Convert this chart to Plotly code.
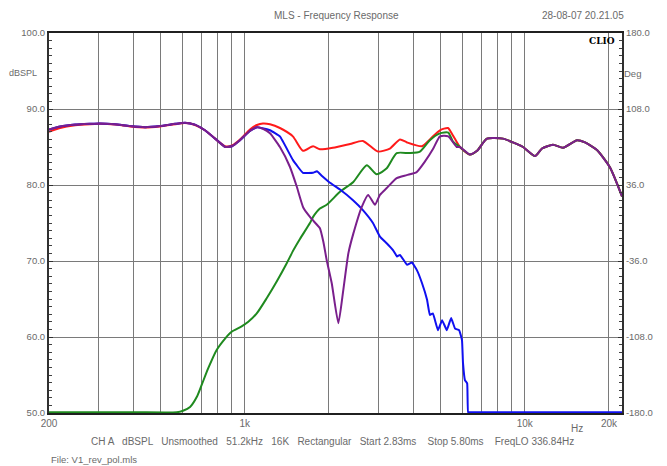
import plotly.graph_objects as go

# ---------------- data ----------------
# shared low-frequency part (woofer region, all traces overlap)
low_freq = [200, 219, 248, 280, 304, 344, 389, 441, 498, 564, 612, 664, 721, 784, 851, 901, 962, 1044, 1106]
low_db = [87.3, 87.7, 87.95, 88.05, 88.1, 88.0, 87.75, 87.6, 87.75, 88.05, 88.2, 87.95, 87.2, 86.1, 85.0, 85.1, 85.9, 87.1, 87.6]

# shared high-frequency tail (tweeter region, all traces overlap)
tail_freq = [5870, 6370, 6760, 7330, 8360, 9080, 9860, 10890, 11530, 12620, 13710, 15380, 16420, 18120, 20170, 22260]
tail_db = [85.0, 84.0, 84.5, 86.1, 86.1, 85.6, 85.0, 83.8, 84.8, 85.3, 84.9, 85.9, 85.6, 84.6, 82.3, 78.5]

# red: sum
red_low_db = [87.0, 87.5, 87.85, 88.0, 88.05, 87.95, 87.7, 87.55, 87.7, 88.0, 88.15, 87.9, 87.2, 86.1, 85.1, 85.2, 86.0, 87.3, 87.9]
red_mid_freq = [1162, 1231, 1336, 1486, 1614, 1754, 1856, 2066, 2377, 2643, 2992, 3300, 3585, 3800, 4296, 4585, 4980, 5320, 5546]
red_mid_db = [88.1, 88.0, 87.5, 86.4, 84.5, 85.1, 84.7, 84.9, 85.4, 85.8, 84.4, 84.8, 86.0, 85.6, 85.1, 86.0, 87.2, 87.5, 86.5]

# blue: woofer
blue_hi_freq = [1231, 1336, 1486, 1614, 1754, 1811, 1888, 2017, 2189, 2437, 2643, 2871, 3040, 3220,
                3390, 3500, 3585, 3800, 3955, 4120, 4296, 4480, 4585, 4700, 4900, 5070, 5270, 5460,
                5640, 5830, 5970, 6020, 6120, 6230, 6280, 6400, 9000, 15000, 22260]
blue_hi_db = [87.2, 86.4, 83.3, 81.6, 81.6, 81.8, 81.2, 80.3, 79.4, 78.0, 76.7, 75.0, 73.2, 72.3,
              71.4, 70.6, 70.8, 69.5, 69.8, 68.8, 67.1, 64.9, 62.9, 63.1, 60.9, 62.2, 60.9, 62.5,
              61.1, 60.9, 59.6, 56.6, 54.3, 53.9, 50.1, 50.1, 50.1, 50.1, 50.1]

# green: tweeter
green_freq = [200, 400, 572, 602, 638, 674, 702, 741, 794, 851, 898, 975, 1030, 1104, 1198, 1301, 1413,
              1491, 1575, 1710, 1755, 1856, 1963, 2189, 2443, 2728, 2960, 3215, 3490, 3890, 4225,
              4585, 4980, 5335, 5546]
green_db = [50.1, 50.1, 50.1, 50.3, 50.8, 52.1, 53.7, 55.9, 58.3, 59.8, 60.7, 61.4, 62.0, 63.1, 65.1, 67.3, 69.7,
            71.4, 72.9, 75.0, 75.8, 76.9, 77.4, 79.1, 80.4, 82.6, 81.4, 82.2, 84.2, 84.2, 84.4,
            85.9, 86.8, 86.9, 85.7]

# purple: sum with reversed tweeter polarity
purple_mid_freq = [1162, 1231, 1336, 1450, 1534, 1620, 1710, 1808, 1856, 1910, 1963, 2045, 2160, 2250,
                   2345, 2443, 2617, 2760, 2920, 3040, 3215, 3490, 3790, 4112, 4405, 4715, 4980, 5335, 5715]
purple_mid_db = [87.4, 86.8, 85.0, 82.4, 79.8, 77.0, 75.8, 74.8, 74.3, 72.5, 70.1, 67.1, 61.8, 66.2,
                 71.0, 73.6, 77.1, 78.7, 77.4, 78.7, 79.6, 80.9, 81.3, 81.7, 83.1, 84.8, 86.4, 86.4, 85.0]

# axes
x_grid = [200, 300, 400, 500, 600, 700, 800, 900, 1000, 2000, 3000, 4000, 5000, 6000, 7000, 8000, 9000, 10000, 20000]
x_labels = {200: "200", 1000: "1k", 10000: "10k", 20000: "20k"}
db_ticks = [50, 60, 70, 80, 90, 100]
deg_ticks = [-180, -108, -36, 36, 108, 180]

title_text = "MLS - Frequency Response"
date_text = "28-08-07 20.21.05"
info_text = "CH A   dBSPL   Unsmoothed   51.2kHz   16K   Rectangular   Start 2.83ms    Stop 5.80ms    FreqLO 336.84Hz"
file_text = "File: V1_rev_pol.mls"

# ---------------- figure ----------------
FONT = "Liberation Sans, Arial, sans-serif"
GRAY = "#6a6a6a"
GRID = "#7a7a7a"

fig = go.Figure()

red_f = low_freq + red_mid_freq + tail_freq
red_y = red_low_db + red_mid_db + tail_db
blue_f = low_freq + blue_hi_freq
blue_y = low_db + blue_hi_db
green_f = green_freq + tail_freq
green_y = green_db + tail_db
purple_f = low_freq + purple_mid_freq + tail_freq
purple_y = low_db + purple_mid_db + tail_db

line_w = 2
fig.add_trace(go.Scatter(x=red_f, y=red_y, mode="lines", line=dict(color="#ff1a1a", width=line_w, shape="spline", smoothing=0.6), showlegend=False))
fig.add_trace(go.Scatter(x=green_f, y=green_y, mode="lines", line=dict(color="#1f8a1f", width=line_w, shape="spline", smoothing=0.6), showlegend=False))
fig.add_trace(go.Scatter(x=blue_f, y=blue_y, mode="lines", line=dict(color="#1010f0", width=line_w, shape="spline", smoothing=0.3), showlegend=False))
fig.add_trace(go.Scatter(x=purple_f, y=purple_y, mode="lines", line=dict(color="#7a1f8c", width=line_w, shape="spline", smoothing=0.5), showlegend=False))
# dummy trace to bring up the right (phase) axis
fig.add_trace(go.Scatter(x=[1000], y=[0], yaxis="y2", mode="markers", marker=dict(opacity=0), showlegend=False, hoverinfo="skip"))

fig.update_layout(
    width=667, height=466,
    margin=dict(l=49, r=45, t=33, b=53),
    paper_bgcolor="white", plot_bgcolor="white",
    font=dict(family=FONT, size=9, color=GRAY),
    xaxis=dict(
        type="log", range=[2.30103, 4.3475],
        tickvals=x_grid, ticktext=[x_labels.get(v, "") for v in x_grid],
        showgrid=True, gridcolor=GRID, gridwidth=1,
        showline=True, linecolor="#202020", linewidth=2, mirror=True,
        ticks="", tickfont=dict(size=10, color=GRAY), zeroline=False,
    ),
    yaxis=dict(
        range=[50, 100], tickvals=db_ticks, ticktext=[f"{v:.1f}" for v in db_ticks],
        showgrid=True, gridcolor=GRID, gridwidth=1,
        showline=True, linecolor="#303030", linewidth=2, mirror=False,
        ticks="inside", ticklen=4, tickcolor="#303030",
        minor=dict(dtick=1, ticks="inside", ticklen=3, tickcolor="#404040", showgrid=False),
        tickfont=dict(size=9.5, color=GRAY), zeroline=False,
    ),
    yaxis2=dict(
        overlaying="y", side="right", range=[-180, 180],
        tickvals=deg_ticks, ticktext=[f"{v:.1f}" for v in deg_ticks],
        showgrid=False, showline=True, linecolor="#303030", linewidth=2,
        ticks="inside", ticklen=4, tickcolor="#303030",
        minor=dict(dtick=7.2, ticks="inside", ticklen=3, tickcolor="#404040", showgrid=False),
        tickfont=dict(size=9.5, color=GRAY), zeroline=False,
    ),
)

ann = [
    dict(text=title_text, x=336, y=16, size=10),
    dict(text=date_text, x=583, y=16, size=10),
    dict(text="dBSPL", x=23, y=73, size=9),
    dict(text="Deg", x=632, y=73, size=9.5),
    dict(text="Hz", x=577, y=428, size=10),
    dict(text=info_text, x=332, y=441, size=10),
    dict(text=file_text, x=49, y=459, xanchor="left", size=9.5),
]
for a in ann:
    fig.add_annotation(
        text=a["text"], xref="paper", yref="paper",
        x=(a["x"] - 49) / (667 - 49 - 45), y=1 - (a["y"] - 33) / (466 - 33 - 53),
        xanchor=a.get("xanchor", "center"), yanchor="middle",
        showarrow=False, font=dict(family=FONT, size=a["size"], color=GRAY),
    )

fig.add_annotation(
    text="<b>CLIO</b>", xref="paper", yref="paper",
    x=(602 - 49) / 573, y=1 - (41 - 33) / 380, xanchor="center", yanchor="middle",
    showarrow=False, font=dict(family="DejaVu Serif, serif", size=9, color="black"),
)

fig.write_html("out.html", config={"displayModeBar": False},
               post_script="document.body.style.margin='0px';")
